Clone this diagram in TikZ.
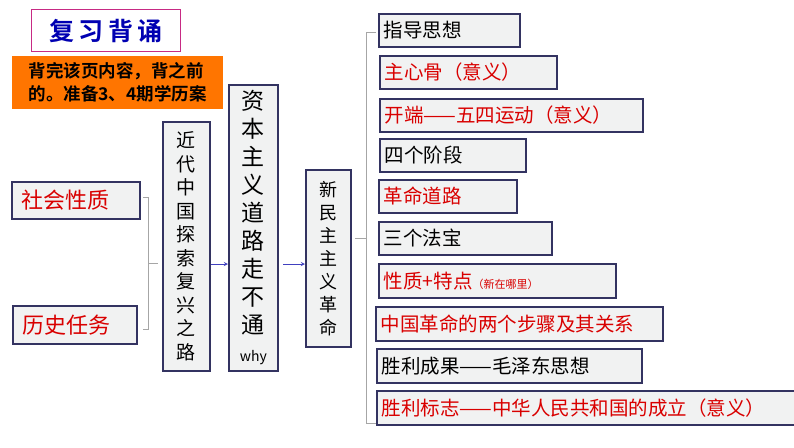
\documentclass[tikz,border=0pt]{standalone}
\usepackage{fontspec}
\setmainfont{Noto Sans CJK SC}
\newfontfamily\cjkb{Noto Sans CJK SC Bold}
\begin{document}
\begin{tikzpicture}[x=1pt,y=-1pt,
 bx/.style={draw=black!70!blue!60!gray,line width=1.6pt,fill=cyan!6!gray!12,inner sep=0pt},
 br/.style={draw=gray!70,line width=0.6pt},
 ar/.style={draw=blue!50!gray,line width=0.9pt,-stealth}]
\useasboundingbox (0,0) rectangle (794,447);
\fill[white] (0,0) rectangle (794,447);
\node[draw=magenta!80!black,line width=1pt,minimum width=149pt,minimum height=42pt,anchor=north west,text=blue!70!black,font=\cjkb\fontsize{25}{28}\selectfont] (t) at (31,9) {复\,习\,背\,诵};
\node[fill=orange!80!red!90!yellow,minimum width=211pt,minimum height=53pt,anchor=north west,align=left,font=\cjkb\fontsize{17.5}{23}\selectfont,inner xsep=6pt] (o) at (12,56) {背完该页内容，背之前\\的。准备3、4期学历案};
\newcommand\hb[5]{\node[bx,minimum width=#3pt-#1pt,minimum height=#4pt-#2pt,anchor=north west,text width=#3pt-#1pt-10pt,align=left,font=\fontsize{19.5}{21}\selectfont] (#5) at (#1,#2)}
\hb{11}{181}{139}{218}{a}{\hspace*{5pt}\textcolor{red!85!black}{\fontsize{22}{23}\selectfont 社会性质}};
\hb{12}{305}{136}{343}{b}{\hspace*{5pt}\textcolor{red!85!black}{\fontsize{22}{23}\selectfont 历史任务}};
\node[bx,minimum width=47pt,minimum height=249pt,anchor=north west,align=center,font=\fontsize{19}{23.5}\selectfont] (c) at (162,121) {近\\代\\中\\国\\探\\索\\复\\兴\\之\\路};
\node[bx,minimum width=49pt,minimum height=286pt,anchor=north west,align=center,font=\fontsize{23}{28}\selectfont] (d) at (228,84) {资\\本\\主\\义\\道\\路\\走\\不\\通\\{\fontsize{14}{16}\selectfont why}};
\node[bx,minimum width=45pt,minimum height=177pt,anchor=north west,align=center,font=\fontsize{18}{23}\selectfont] (e) at (305,169) {新\\民\\主\\主\\义\\革\\命};
\hb{378}{13}{519}{46}{r1}{指导思想};
\hb{379}{55}{556}{88}{r2}{\textcolor{red!85!black}{主心骨（意义）}};
\hb{379}{98}{642}{131}{r3}{\textcolor{red!85!black}{开端——五四运动（意义）}};
\hb{379}{138}{525}{171}{r4}{四个阶段};
\hb{378}{179}{516}{212}{r5}{\textcolor{red!85!black}{革命道路}};
\hb{378}{221}{551}{254}{r6}{三个法宝};
\hb{378}{263}{615}{297}{r7}{\textcolor{red!85!black}{性质+特点{\fontsize{11}{12}\selectfont（新在哪里）}}};
\hb{375}{306}{662}{340}{r8}{\textcolor{red!85!black}{中国革命的两个步骤及其关系}};
\hb{376}{348}{641}{382}{r9}{胜利成果——毛泽东思想};
\hb{376}{390}{794}{424}{r10}{\textcolor{red!85!black}{胜利标志——中华人民共和国的成立（意义）}};
\draw[br] (143,197) -- (148,197) -- (148,329) -- (143,329);
\draw[br] (148,263) -- (158,263);
\draw[br] (376,32) -- (366,32) -- (366,423) -- (376,423);
\draw[br] (366,238) -- (355,238);
\draw[ar] (c.east |- 0,264) -- (d.west |- 0,264);
\draw[ar] (283,264) -- (e.west |- 0,264);
\end{tikzpicture}
\end{document}
